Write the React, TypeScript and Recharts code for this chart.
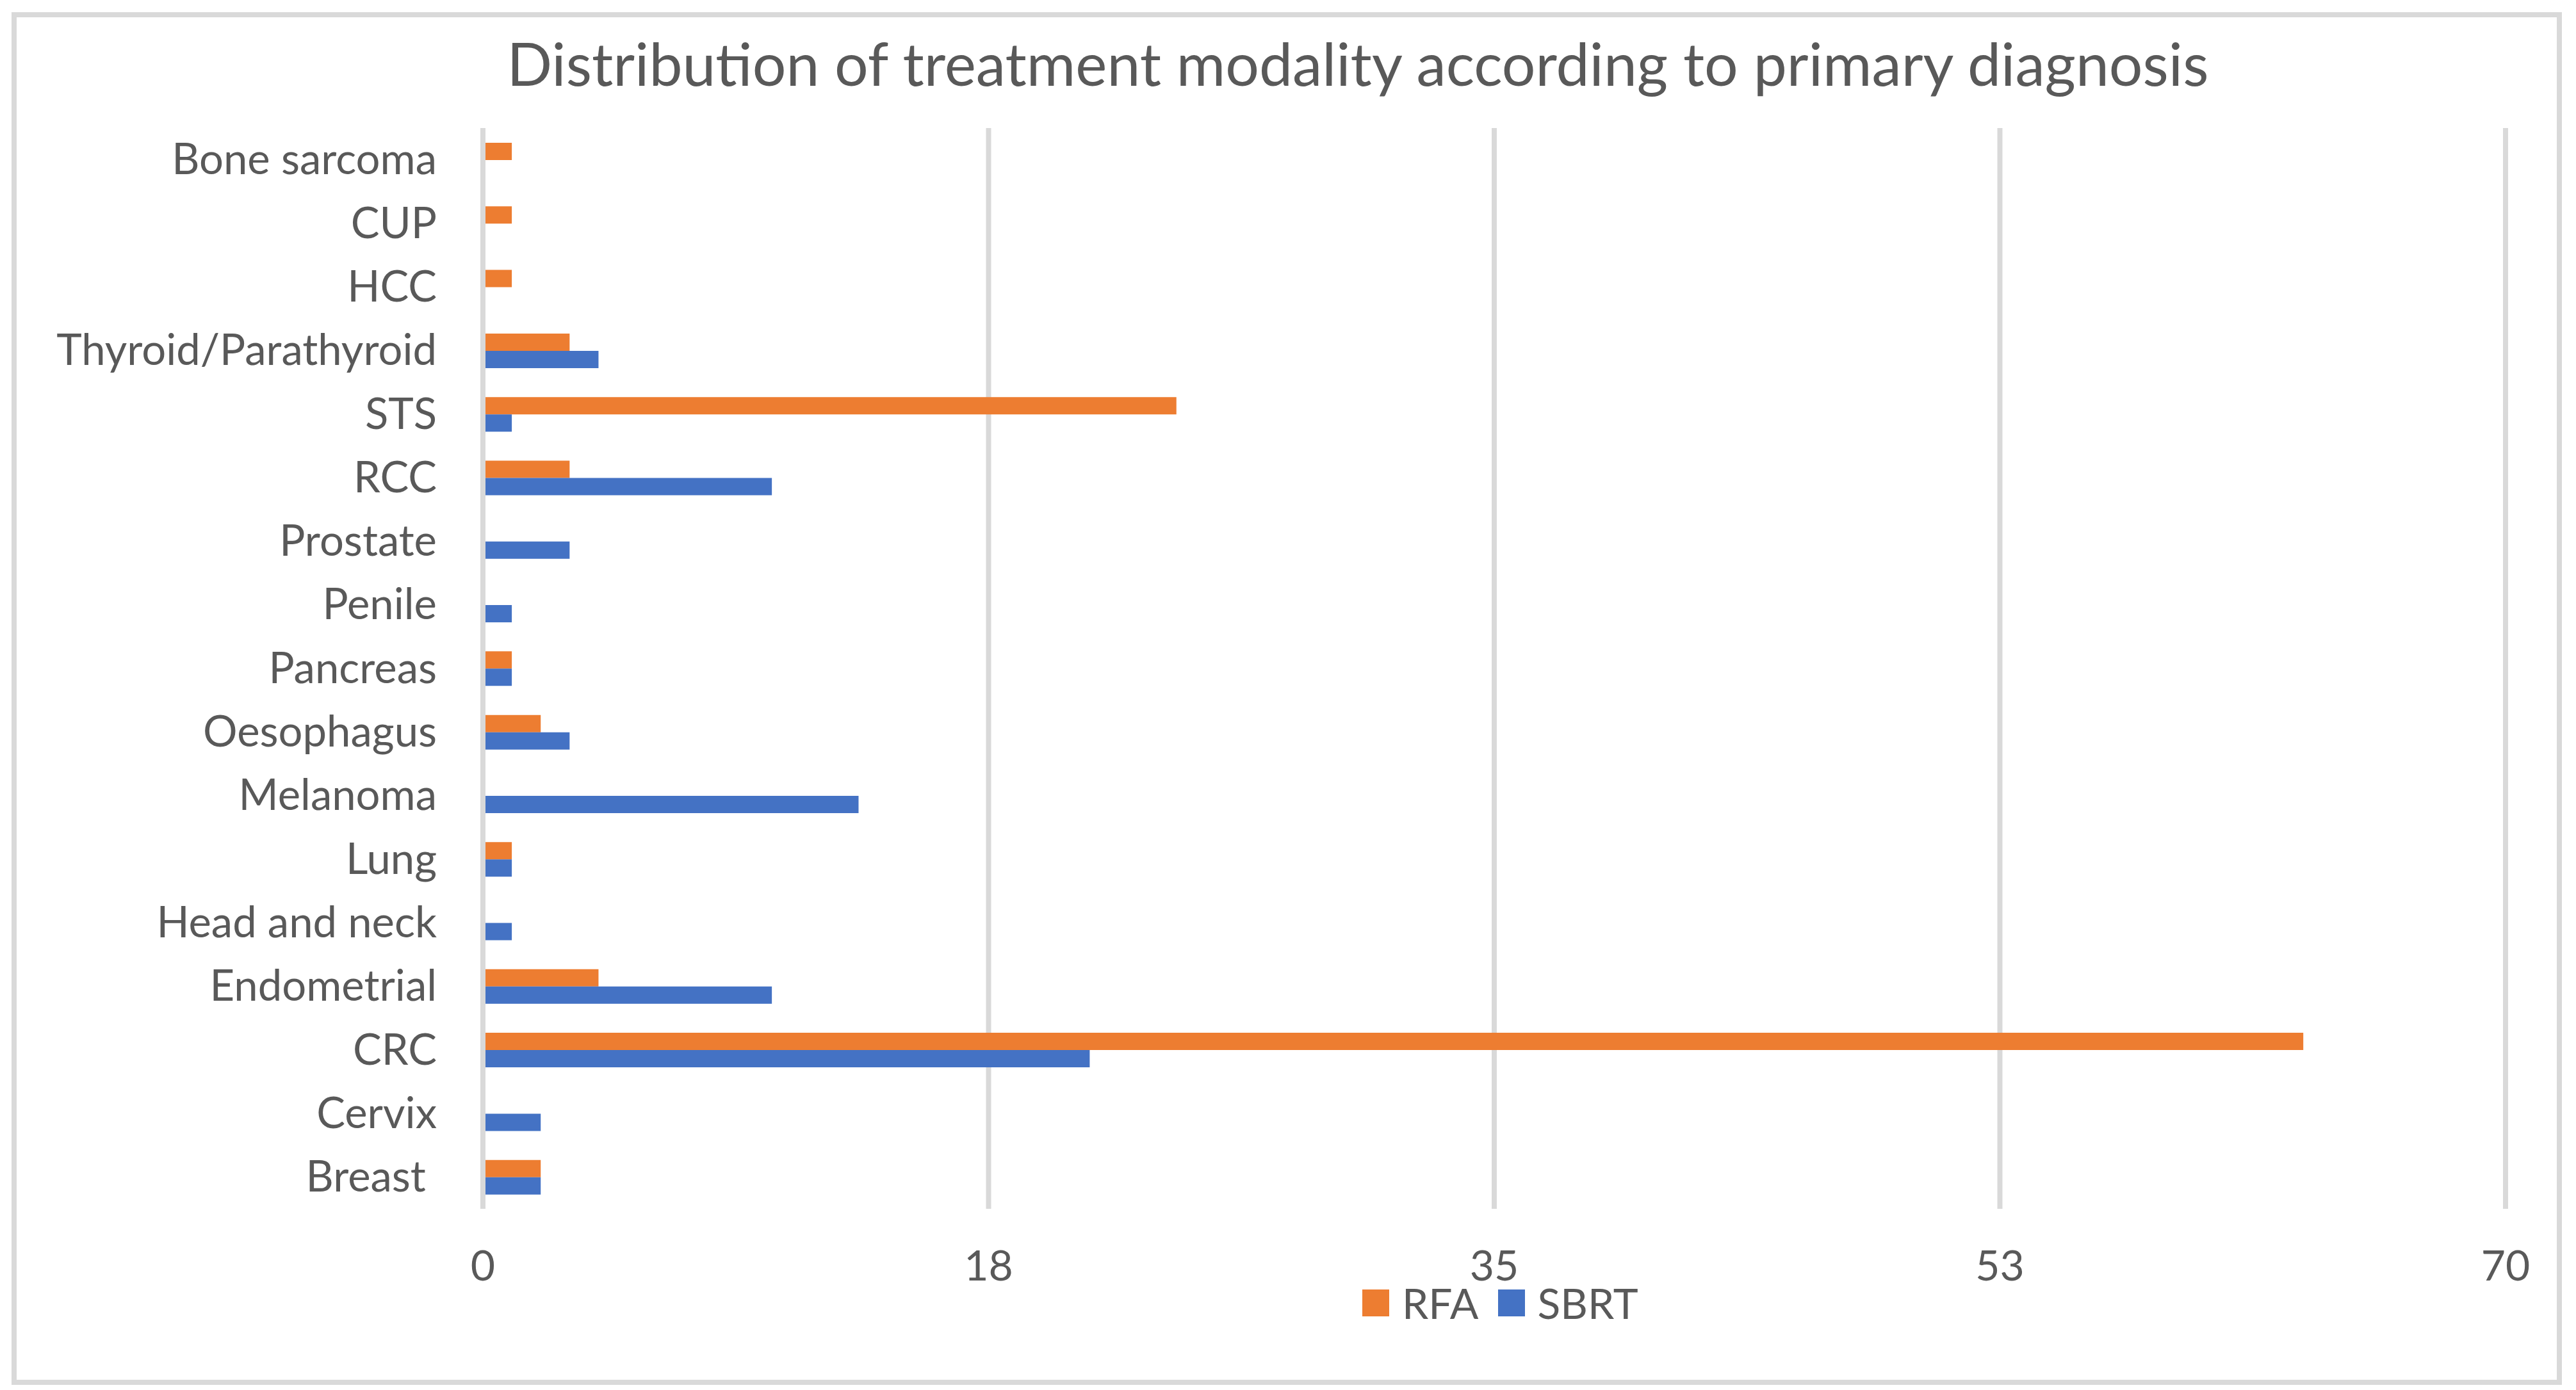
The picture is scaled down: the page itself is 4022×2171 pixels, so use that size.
import { Bar, BarChart, CartesianGrid, Legend, ReferenceLine, XAxis, YAxis } from 'recharts';

const categories = [
  'Bone sarcoma',
  'CUP',
  'HCC',
  'Thyroid/Parathyroid',
  'STS',
  'RCC',
  'Prostate',
  'Penile',
  'Pancreas',
  'Oesophagus',
  'Melanoma',
  'Lung',
  'Head and neck',
  'Endometrial',
  'CRC',
  'Cervix',
  'Breast\u00a0',
];
const rfa = [1, 1, 1, 3, 24, 3, 0, 0, 1, 2, 0, 1, 0, 4, 63, 0, 2];
const sbrt = [0, 0, 0, 4, 1, 10, 3, 1, 1, 3, 13, 1, 1, 10, 21, 2, 2];
const xTicks = [0, 17.5, 35, 52.5, 70];

const data = categories.map((name, i) => ({ name, RFA: rfa[i], SBRT: sbrt[i] }));

const COLORS = {
  rfa: '#ED7D31',
  sbrt: '#4472C4',
  grid: '#D9D9D9',
  text: '#595959',
};
const FONT = 'Lato, "Open Sans", sans-serif';

function LegendContent({ payload }: any) {
  return (
    <div style={{ display: 'flex', alignItems: 'center', fontFamily: FONT, fontSize: 66, color: COLORS.text }}>
      {(payload || []).map((p: any) => (
        <div key={p.value} style={{ display: 'flex', alignItems: 'center', marginRight: 30 }}>
          <span style={{ width: 42, height: 42, background: p.color, display: 'inline-block', marginRight: 20 }} />
          <span style={{ lineHeight: 1 }}>{p.value}</span>
        </div>
      ))}
    </div>
  );
}

export default function App() {
  return (
    <div style={{ position: 'absolute', left: 0, top: 0, width: 4022, height: 2171, background: '#fff' }}>
      <div
        style={{
          position: 'absolute',
          left: 18,
          top: 19,
          width: 3982,
          height: 2144,
          border: `8px solid ${COLORS.grid}`,
          boxSizing: 'border-box',
        }}
      />
      <div
        style={{
          position: 'absolute',
          left: 0,
          top: 40,
          width: 4240,
          textAlign: 'center',
          fontFamily: FONT,
          fontSize: 93,
          color: COLORS.text,
          lineHeight: '116px',
        }}
      >
        Distribution of treatment modality according to primary diagnosis
      </div>
      <div style={{ position: 'absolute', left: 0, top: 0 }}>
        <BarChart
          width={4022}
          height={2171}
          data={data}
          layout="vertical"
          barGap={0}
          barSize={27}
          margin={{ top: 200, right: 110, left: 0, bottom: 183 }}
        >
          <CartesianGrid horizontal={false} stroke={COLORS.grid} strokeWidth={8} />
          <XAxis
            type="number"
            domain={[0, 70]}
            ticks={xTicks}
            tickFormatter={(v: number) => String(Math.round(v))}
            axisLine={false}
            tickLine={false}
            tickSize={0}
            tickMargin={65}
            height={100}
            tick={{ fill: COLORS.text, fontSize: 66, fontFamily: FONT }}
          />
          <YAxis
            type="category"
            dataKey="name"
            width={754}
            axisLine={false}
            tickLine={false}
            tickSize={0}
            tickMargin={72}
            interval={0}
            tick={{ fill: COLORS.text, fontSize: 67, fontFamily: FONT, dy: -1 }}
          />
          <Bar dataKey="RFA" fill={COLORS.rfa} isAnimationActive={false} />
          <Bar dataKey="SBRT" fill={COLORS.sbrt} isAnimationActive={false} />
          <ReferenceLine x={0} stroke={COLORS.grid} strokeWidth={8} />
          <Legend
            layout="horizontal"
            verticalAlign="middle"
            align="center"
            wrapperStyle={{ top: 2002, left: 2127, width: 600 }}
            content={<LegendContent />}
          />
        </BarChart>
      </div>
    </div>
  );
}
